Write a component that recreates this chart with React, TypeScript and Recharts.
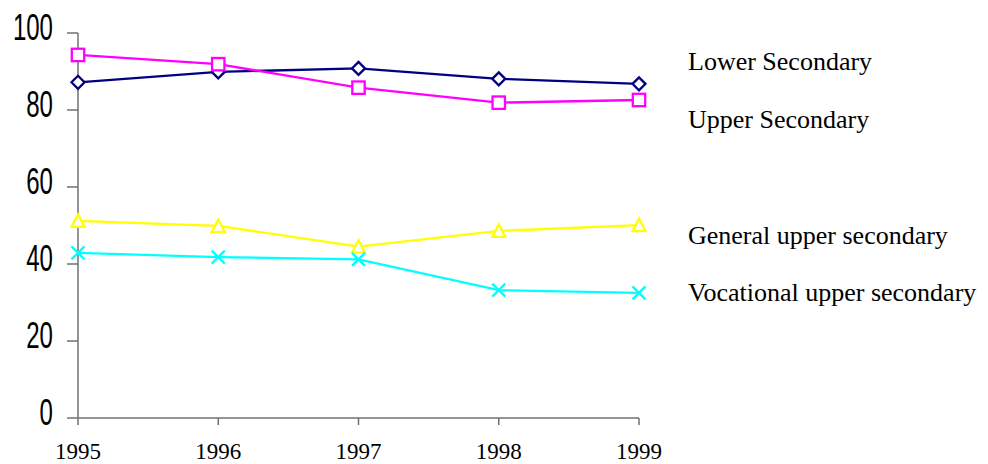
import { LineChart, Line, XAxis, YAxis, Legend } from "recharts";

const years = ["1995", "1996", "1997", "1998", "1999"];
const lowerSecondary = [87.2, 89.9, 90.8, 88.1, 86.8];
const upperSecondary = [94.3, 91.9, 85.8, 81.9, 82.6];
const generalUpper = [51.2, 49.9, 44.5, 48.6, 50.1];
const vocationalUpper = [42.9, 41.8, 41.2, 33.2, 32.5];
const yTicks = [0, 20, 40, 60, 80, 100];

const seriesNames = [
  "Lower Secondary",
  "Upper Secondary",
  "General upper secondary",
  "Vocational upper secondary",
];

// vertical centres of the side labels (px from chart top)
const labelCenters = [62, 120, 236, 293];

const data = years.map((year, i) => ({
  year,
  lower: lowerSecondary[i],
  upper: upperSecondary[i],
  general: generalUpper[i],
  vocational: vocationalUpper[i],
}));

const Diamond = ({ cx, cy }: any) => (
  <path
    d={`M${cx},${cy - 6.5} L${cx + 6.5},${cy} L${cx},${cy + 6.5} L${cx - 6.5},${cy} Z`}
    fill="#fff"
    stroke="#000080"
    strokeWidth={2.3}
  />
);

const Square = ({ cx, cy }: any) => (
  <rect x={cx - 6.2} y={cy - 6.2} width={12.4} height={12.4} fill="#fff" stroke="#ff00ff" strokeWidth={2.3} />
);

const Triangle = ({ cx, cy }: any) => (
  <path
    d={`M${cx},${cy - 6.5} L${cx + 6.5},${cy + 6} L${cx - 6.5},${cy + 6} Z`}
    fill="#fff"
    stroke="#ffff00"
    strokeWidth={2.3}
  />
);

const Cross = ({ cx, cy }: any) => (
  <path
    d={`M${cx - 6.5},${cy - 6.5} L${cx + 6.5},${cy + 6.5} M${cx + 6.5},${cy - 6.5} L${cx - 6.5},${cy + 6.5}`}
    stroke="#00ffff"
    strokeWidth={2.3}
  />
);

// condensed y tick labels (no narrow font installed, so squeeze a regular one)
const NarrowTick = ({ x, y, payload }: any) => (
  <text
    transform={`translate(${x},${y + 7}) scale(0.65,1)`}
    textAnchor="end"
    fontFamily="'Liberation Sans', Arial, sans-serif"
    fontSize={37}
    fill="#000"
  >
    {payload.value}
  </text>
);

const SideLabels = () => (
  <div style={{ position: "relative", width: 300, height: 464 }}>
    {seriesNames.map((name, i) => (
      <div
        key={name}
        style={{
          position: "absolute",
          left: 0,
          top: labelCenters[i] - 15,
          fontFamily: "'Liberation Serif', 'Times New Roman', serif",
          fontSize: 26,
          lineHeight: "30px",
          color: "#000",
          whiteSpace: "nowrap",
        }}
      >
        {name}
      </div>
    ))}
  </div>
);

export default function App() {
  return (
    <div style={{ position: "absolute", left: 0, top: 0, width: 988, height: 464, background: "#fff" }}>
      <LineChart width={988} height={464} data={data} margin={{ top: 33, right: 349, bottom: 0, left: 0 }}>
        <XAxis
          dataKey="year"
          height={46}
          axisLine={{ stroke: "#707070", strokeWidth: 1.5 }}
          tickLine={{ stroke: "#707070", strokeWidth: 1.5 }}
          tickSize={7}
          tickMargin={18}
          tick={{ fontFamily: "'Liberation Serif', 'Times New Roman', serif", fontSize: 23, fill: "#000" }}
          interval={0}
        />
        <YAxis
          width={78}
          domain={[0, 100]}
          ticks={yTicks}
          axisLine={{ stroke: "#707070", strokeWidth: 1.5 }}
          tickLine={{ stroke: "#707070", strokeWidth: 1.5 }}
          tickSize={11}
          tickMargin={14}
          tick={<NarrowTick />}
        />
        <Legend
          layout="horizontal"
          verticalAlign="middle"
          content={<SideLabels />}
          wrapperStyle={{ position: "absolute", left: 688, top: 0, width: 300, height: 464 }}
        />
        <Line dataKey="lower" name={seriesNames[0]} stroke="#000080" strokeWidth={2.3} dot={<Diamond />} isAnimationActive={false} />
        <Line dataKey="upper" name={seriesNames[1]} stroke="#ff00ff" strokeWidth={2.3} dot={<Square />} isAnimationActive={false} />
        <Line dataKey="general" name={seriesNames[2]} stroke="#ffff00" strokeWidth={2.3} dot={<Triangle />} isAnimationActive={false} />
        <Line dataKey="vocational" name={seriesNames[3]} stroke="#00ffff" strokeWidth={2.3} dot={<Cross />} isAnimationActive={false} />
      </LineChart>
    </div>
  );
}
